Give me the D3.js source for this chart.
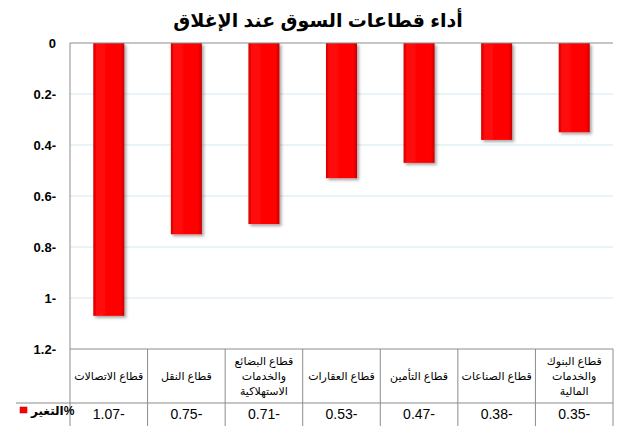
<!DOCTYPE html>
<html>
<head>
<meta charset="utf-8">
<script src="https://cdn.jsdelivr.net/npm/d3@7"></script>
<style>
  body { margin: 0; background: #fff; }
  text { font-family: "Liberation Sans", "DejaVu Sans", Arial, sans-serif; }
</style>
</head>
<body>
<div class="d3-canvas"></div>
<script>
const WIDTH = 636;
const HEIGHT = 426;

// Data (left to right).
const categories = [
    ['قطاع الاتصالات'],
    ['قطاع النقل'],
    ['قطاع البضائع', 'والخدمات', 'الاستهلاكية'],
    ['قطاع العقارات'],
    ['قطاع التأمين'],
    ['قطاع الصناعات'],
    ['قطاع البنوك', 'والخدمات', 'المالية']
];
const changes = [-1.07, -0.75, -0.71, -0.53, -0.47, -0.38, -0.35];
const yTicks = [0, -0.2, -0.4, -0.6, -0.8, -1, -1.2];
const seriesName = 'التغير%';
const title = 'أداء قطاعات السوق عند الإغلاق';

const margin = {top: 43, right: 23, bottom: 77, left: 70};
const plotBottom = HEIGHT - margin.bottom;
const catRowBottom = 403;
const fmt = d => d === 0 ? '0' : `${Math.abs(d)}-`;

const svg = d3.select('.d3-canvas')
    .append('svg')
        .attr('width', WIDTH)
        .attr('height', HEIGHT);

const defs = svg.append('defs');
const grad = defs.append('linearGradient').attr('id', 'barGrad');
grad.append('stop').attr('offset', '0%').attr('stop-color', '#d80000');
grad.append('stop').attr('offset', '12%').attr('stop-color', '#ff0a0a');
grad.append('stop').attr('offset', '88%').attr('stop-color', '#ff0000');
grad.append('stop').attr('offset', '100%').attr('stop-color', '#c80000');
defs.append('filter').attr('id', 'shadow')
    .attr('x', '-20%').attr('y', '-5%').attr('width', '150%').attr('height', '115%')
    .append('feDropShadow')
        .attr('dx', 2).attr('dy', 2).attr('stdDeviation', 1.5)
        .attr('flood-color', '#000').attr('flood-opacity', 0.35);

const keys = categories.map((c, i) => i);

// Scales
const x = d3.scaleBand()
    .domain(keys)
    .range([margin.left, WIDTH - margin.right])
    .paddingInner(0.6)
    .paddingOuter(0.3);
const col = d3.scaleBand()
    .domain(keys)
    .range([margin.left, WIDTH - margin.right]);
const y = d3.scaleLinear()
    .domain([0, -1.2])
    .range([margin.top, plotBottom]);

// Title
svg.append('text')
    .attr('x', WIDTH / 2)
    .attr('y', 27)
    .attr('text-anchor', 'middle')
    .attr('font-size', 19)
    .attr('font-weight', 'bold')
    .text(title);

// Gridlines
svg.append('g')
    .selectAll('line')
    .data(yTicks.slice(1, -1))
    .enter().append('line')
        .attr('x1', margin.left)
        .attr('x2', WIDTH - margin.right)
        .attr('y1', d => y(d))
        .attr('y2', d => y(d))
        .attr('stroke', '#d3e9f1');

// Y axis
const yAxisGroup = svg.append('g')
    .attr('transform', `translate(${margin.left - 14}, 0)`);
yAxisGroup.call(d3.axisLeft(y).tickValues(yTicks).tickFormat(fmt).tickSize(0).tickPadding(0));
yAxisGroup.select('.domain').remove();
yAxisGroup.selectAll('text')
    .attr('font-size', 13)
    .attr('font-weight', 'bold')
    .attr('fill', '#000');

// Bars
svg.append('g')
    .selectAll('rect')
    .data(changes)
    .enter().append('rect')
        .attr('x', (d, i) => x(i))
        .attr('y', y(0))
        .attr('width', x.bandwidth())
        .attr('height', d => y(d) - y(0))
        .attr('fill', 'url(#barGrad)')
        .attr('filter', 'url(#shadow)');

// Plot frame and data table
const frame = svg.append('g').attr('stroke', '#8c8c8c').attr('fill', 'none');
frame.append('line')
    .attr('x1', margin.left).attr('x2', WIDTH - margin.right)
    .attr('y1', y(0)).attr('y2', y(0));
frame.append('line')
    .attr('x1', margin.left).attr('x2', margin.left)
    .attr('y1', margin.top).attr('y2', HEIGHT);
frame.append('line')
    .attr('x1', margin.left).attr('x2', WIDTH - margin.right)
    .attr('y1', plotBottom).attr('y2', plotBottom);
frame.append('line')
    .attr('x1', 16).attr('x2', WIDTH - margin.right)
    .attr('y1', catRowBottom).attr('y2', catRowBottom);
frame.selectAll('.sep')
    .data(keys)
    .enter().append('line')
        .attr('x1', i => col(i) + col.bandwidth())
        .attr('x2', i => col(i) + col.bandwidth())
        .attr('y1', plotBottom)
        .attr('y2', HEIGHT);

// Category labels
const catGroup = svg.append('g');
categories.forEach((lines, i) => {
    const cx = col(i) + col.bandwidth() / 2;
    const mid = (plotBottom + catRowBottom) / 2 + 4;
    const lh = 15;
    lines.forEach((line, j) => {
        catGroup.append('text')
            .attr('x', cx)
            .attr('y', mid + (j - (lines.length - 1) / 2) * lh)
            .attr('text-anchor', 'middle')
            .attr('font-size', 11)
            .attr('direction', 'rtl')
            .text(line);
    });
});

// Values row
svg.append('g')
    .selectAll('text')
    .data(changes)
    .enter().append('text')
        .attr('x', (d, i) => col(i) + col.bandwidth() / 2)
        .attr('y', 419)
        .attr('text-anchor', 'middle')
        .attr('font-size', 14)
        .text(d => fmt(d));

// Legend key
svg.append('rect')
    .attr('x', 20).attr('y', 407)
    .attr('width', 7).attr('height', 6)
    .attr('fill', '#ff0000')
    .attr('stroke', '#a00000')
    .attr('stroke-width', 0.5);
svg.append('text')
    .attr('x', 31)
    .attr('y', 415)
    .attr('font-size', 12)
    .attr('font-weight', 'bold')
    .attr('direction', 'ltr')
    .text(seriesName);
</script>
</body>
</html>
